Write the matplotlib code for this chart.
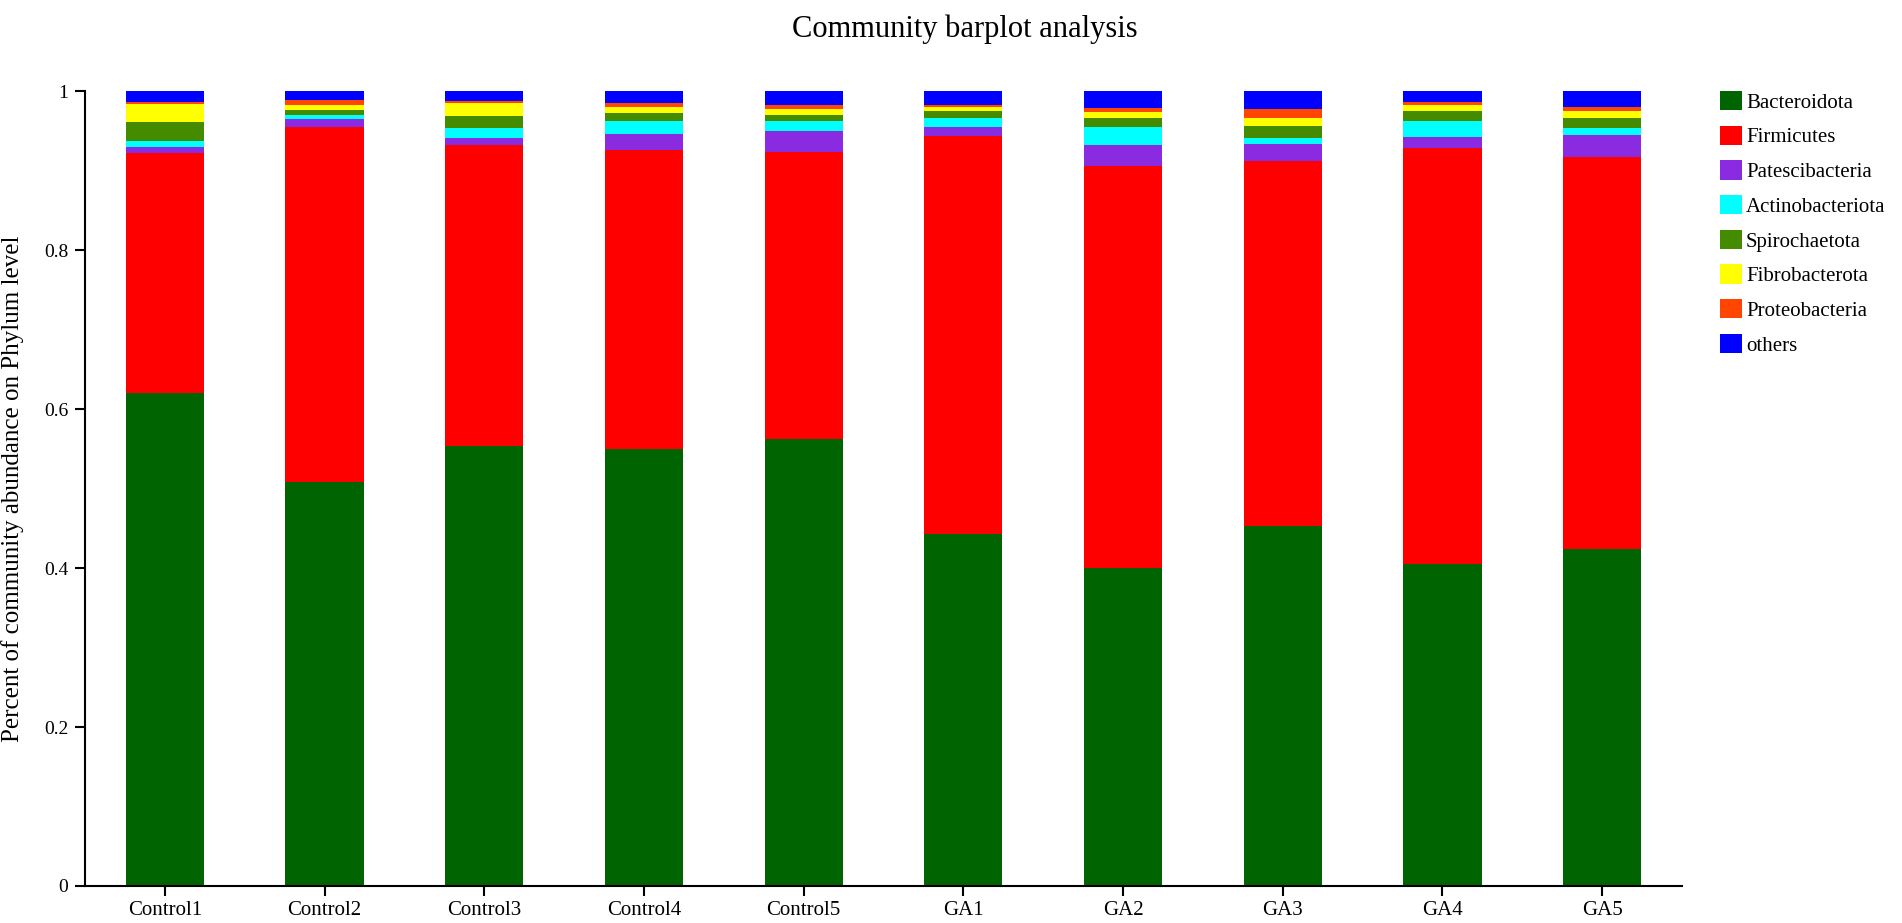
import numpy as np
import matplotlib
matplotlib.use("Agg")
import matplotlib.pyplot as plt

plt.rcParams['font.family'] = ['Liberation Serif', 'DejaVu Serif']

samples = ['Control1', 'Control2', 'Control3', 'Control4', 'Control5',
           'GA1', 'GA2', 'GA3', 'GA4', 'GA5']

# relative abundance per phylum, one value per sample (stacked bottom -> top)
bacteroidota     = [0.620, 0.509, 0.554, 0.550, 0.562, 0.443, 0.400, 0.453, 0.405, 0.424]
firmicutes       = [0.302, 0.446, 0.378, 0.376, 0.362, 0.501, 0.506, 0.459, 0.524, 0.494]
patescibacteria  = [0.008, 0.010, 0.009, 0.021, 0.026, 0.011, 0.026, 0.022, 0.014, 0.027]
actinobacteriota = [0.008, 0.006, 0.013, 0.016, 0.013, 0.012, 0.023, 0.007, 0.020, 0.009]
spirochaetota    = [0.023, 0.006, 0.015, 0.010, 0.008, 0.009, 0.012, 0.016, 0.012, 0.013]
fibrobacterota   = [0.023, 0.006, 0.017, 0.007, 0.007, 0.004, 0.007, 0.010, 0.008, 0.008]
proteobacteria   = [0.003, 0.006, 0.002, 0.005, 0.005, 0.003, 0.005, 0.011, 0.004, 0.006]
others           = [0.013, 0.011, 0.012, 0.015, 0.017, 0.017, 0.021, 0.022, 0.013, 0.019]

phyla = ['Bacteroidota', 'Firmicutes', 'Patescibacteria', 'Actinobacteriota',
         'Spirochaetota', 'Fibrobacterota', 'Proteobacteria', 'others']
series = [bacteroidota, firmicutes, patescibacteria, actinobacteriota,
          spirochaetota, fibrobacterota, proteobacteria, others]
colors = ['#006400', '#FF0000', '#8A2BE2', '#00FFFF',
          '#458B00', '#FFFF00', '#FF4500', '#0000FF']

fig = plt.figure(figsize=(19.02, 9.23), dpi=100)
ax = fig.add_axes([0.0447, 0.0401, 0.8396, 0.8608])

x = np.arange(len(samples))
bottom = np.zeros(len(samples))
handles = []
for name, vals, c in zip(phyla, series, colors):
    b = ax.bar(x, vals, width=0.49, bottom=bottom, color=c, label=name, linewidth=0)
    handles.append(b)
    bottom += np.array(vals)

ax.set_xlim(-0.5, 9.5)
ax.set_ylim(0, 1)
ax.set_xticks(x)
ax.set_xticklabels(samples, fontsize=15)
ax.set_yticks([0, 0.2, 0.4, 0.6, 0.8, 1])
ax.set_yticklabels(['0', '0.2', '0.4', '0.6', '0.8', '1'], fontsize=14)
ax.tick_params(axis='both', length=7, width=1.5, pad=4)
ax.tick_params(axis='y', pad=5)
for s in ['top', 'right']:
    ax.spines[s].set_visible(False)
for s in ['left', 'bottom']:
    ax.spines[s].set_linewidth(1.5)

fig.text(13 / 1902, 0.471, 'Percent of community abundance on Phylum level',
         rotation=90, ha='center', va='center', fontsize=18)
fig.text(0.507, 0.96, 'Community barplot analysis', ha='center', va='baseline', fontsize=22)

fig.legend(handles, phyla, loc='upper left', bbox_to_anchor=(1720 / 1902, 1 - 91 / 923),
           frameon=False, fontsize=15, handlelength=1.05, handleheight=1.05,
           handletextpad=0.2, labelspacing=0.62, borderpad=0, borderaxespad=0)

fig.savefig('out.png', dpi=100)
